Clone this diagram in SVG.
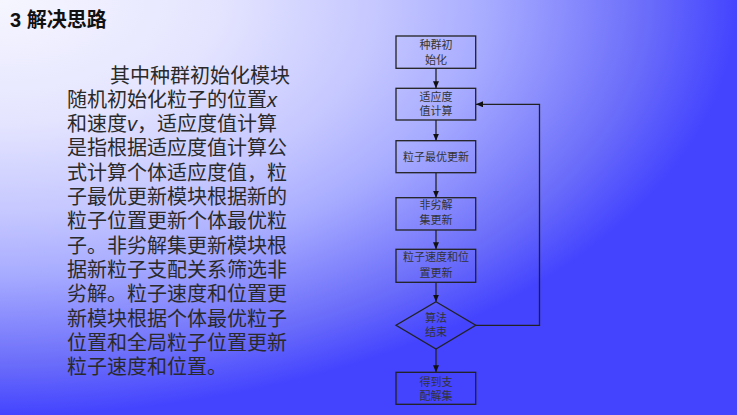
<svg xmlns="http://www.w3.org/2000/svg" width="737" height="415" viewBox="0 0 737 415">
<defs>
<radialGradient id="bg" cx="0" cy="0" r="1" fx="0" fy="0" gradientUnits="objectBoundingBox">
<stop offset="0" stop-color="#f6f6ff"/>
<stop offset="0.3" stop-color="#e4e4ff"/>
<stop offset="0.52" stop-color="#c4c6ff"/>
<stop offset="0.66" stop-color="#a8acff"/>
<stop offset="0.88" stop-color="#6a6cfa"/>
<stop offset="1" stop-color="#4444ff"/>
</radialGradient>
<marker id="arr" viewBox="0 0 10 10" refX="10" refY="5" markerWidth="7" markerHeight="6" markerUnits="userSpaceOnUse" orient="auto" preserveAspectRatio="none">
<path d="M0,0 L10,5 L0,10 z" fill="#111"/>
</marker>
<style>
.box{fill:none;stroke:#222;stroke-width:1.3}
.lbl{font-family:"Noto Sans CJK SC","Noto Sans",sans-serif;font-size:11px;fill:#333;text-anchor:middle}
.body{font-family:"Noto Sans CJK SC","Noto Sans",sans-serif;font-size:20px;fill:#2a2a2a}
.con{fill:none;stroke:#222;stroke-width:1.3}
</style>
</defs>
<rect x="0" y="0" width="737" height="415" fill="url(#bg)"/>
<text x="10" y="27" font-family="'Liberation Sans','Noto Sans CJK SC',sans-serif" font-size="20" font-weight="bold" fill="#111">3 解决思路</text>
<g id="bodytext" class="body">
<text x="110" y="82.5">其中种群初始化模块</text>
<text x="67" y="106.8">随机初始化粒子的位置<tspan font-style="italic" font-family="'Liberation Sans',sans-serif">x</tspan></text>
<text x="67" y="131.1">和速度<tspan font-style="italic" font-family="'Liberation Sans',sans-serif">v</tspan>，适应度值计算</text>
<text x="67" y="155.4">是指根据适应度值计算公</text>
<text x="67" y="179.7">式计算个体适应度值，粒</text>
<text x="67" y="204">子最优更新模块根据新的</text>
<text x="67" y="228.3">粒子位置更新个体最优粒</text>
<text x="67" y="252.6">子。非劣解集更新模块根</text>
<text x="67" y="276.9">据新粒子支配关系筛选非</text>
<text x="67" y="301.2">劣解。粒子速度和位置更</text>
<text x="67" y="325.5">新模块根据个体最优粒子</text>
<text x="67" y="349.8">位置和全局粒子位置更新</text>
<text x="67" y="374.1">粒子速度和位置。</text>
</g>
<g id="connectors">
<line class="con" x1="436" y1="68.3" x2="436" y2="88.3" marker-end="url(#arr)"/>
<line class="con" x1="436" y1="120" x2="436" y2="140.7" marker-end="url(#arr)"/>
<line class="con" x1="436" y1="172.7" x2="436" y2="197.7" marker-end="url(#arr)"/>
<line class="con" x1="436" y1="230" x2="436" y2="249.3" marker-end="url(#arr)"/>
<line class="con" x1="436" y1="282.3" x2="436" y2="301.7" marker-end="url(#arr)"/>
<line class="con" x1="436" y1="349" x2="436" y2="372.3" marker-end="url(#arr)"/>
<polyline class="con" points="475.7,325.3 539.5,325.3 539.5,104.3 476,104.3" marker-end="url(#arr)"/>
</g>
<g id="n1"><rect class="box" x="396" y="36" width="79.7" height="32.3"/><text class="lbl" x="436" y="49">种群初</text><text class="lbl" x="436" y="64">始化</text></g>
<g id="n2"><rect class="box" x="396" y="88.3" width="79.7" height="31.7"/><text class="lbl" x="436" y="100.7">适应度</text><text class="lbl" x="436" y="114.7">值计算</text></g>
<g id="n3"><rect class="box" x="396" y="140.7" width="79.7" height="32"/><text class="lbl" x="436" y="160.7">粒子最优更新</text></g>
<g id="n4"><rect class="box" x="396" y="197.7" width="79.7" height="32.3"/><text class="lbl" x="436" y="209">非劣解</text><text class="lbl" x="436" y="224">集更新</text></g>
<g id="n5"><rect class="box" x="396" y="249.3" width="79.7" height="33"/><text class="lbl" x="436" y="261.3">粒子速度和位</text><text class="lbl" x="436" y="277.3">置更新</text></g>
<g id="n6"><polygon class="box" points="436,301.7 475.7,325.3 436,349 396,325.3"/><text class="lbl" x="436" y="322.3">算法</text><text class="lbl" x="436" y="335.7">结束</text></g>
<g id="n7"><rect class="box" x="396" y="372.3" width="79.7" height="32"/><text class="lbl" x="436" y="385.7">得到支</text><text class="lbl" x="436" y="400">配解集</text></g>
</svg>
